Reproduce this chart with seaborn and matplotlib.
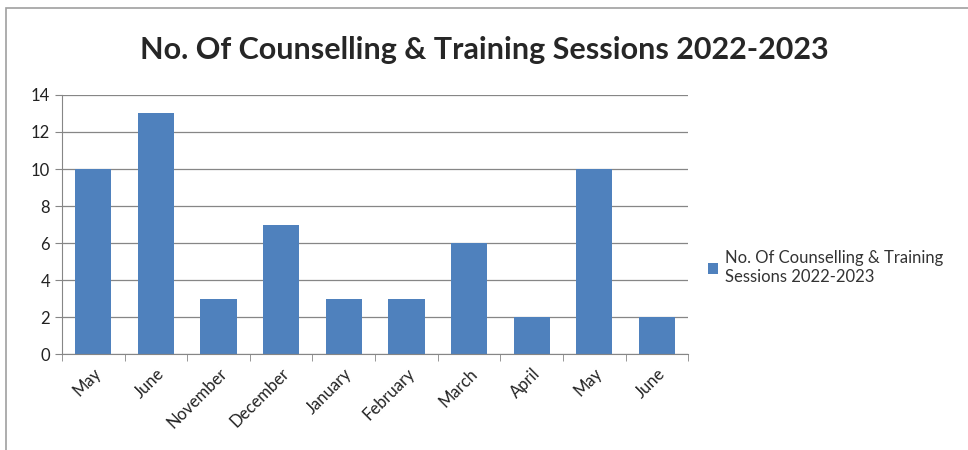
import numpy as np
import pandas as pd
import matplotlib.pyplot as plt
import seaborn as sns
from matplotlib.patches import Rectangle

months = ['May', 'June', 'November', 'December', 'January', 'February',
          'March', 'April', 'May', 'June']
sessions = [10, 13, 3, 7, 3, 3, 6, 2, 10, 2]
series_name = 'No. Of Counselling & Training\nSessions 2022-2023'
title = 'No. Of Counselling & Training Sessions 2022-2023'

sns.set_style('white')
plt.rcParams['font.family'] = ['Lato', 'DejaVu Sans']

df = pd.DataFrame({'pos': np.arange(len(months)), 'sessions': sessions})

fig = plt.figure(figsize=(9.68, 4.5), dpi=100)
ax = fig.add_axes([0.064, 0.213, 0.647, 0.576])

sns.barplot(data=df, x='pos', y='sessions', color='#4F81BD', saturation=1,
            width=0.58, label=series_name, ax=ax, legend=False, linewidth=0)

ax.set_ylim(0, 14)
ax.set_yticks(range(0, 15, 2))
ax.set_xlim(-0.5, len(months) - 0.5)
ax.set_xticks(range(len(months)))
ax.set_xticklabels(months, rotation=45, ha='right', rotation_mode='anchor')
ax.set_xticks(np.arange(-0.5, len(months), 1), minor=True)
ax.tick_params(axis='x', which='major', length=0, pad=8, labelsize=12, labelcolor='#222222')
ax.tick_params(axis='x', which='minor', length=5, color='#868686', bottom=True)
ax.tick_params(axis='y', length=5, color='#868686', left=True, labelsize=12, labelcolor='#222222')
ax.set_xlabel('')
ax.set_ylabel('')
ax.yaxis.grid(True, color='#868686', linewidth=0.9)
ax.set_axisbelow(True)
for side in ['top', 'right']:
    ax.spines[side].set_visible(False)
for side in ['left', 'bottom']:
    ax.spines[side].set_color('#868686')

fig.text(0.5, 0.888, title, ha='center', va='center', fontsize=22, fontweight='bold')

handles, labels = ax.get_legend_handles_labels()
fig.legend(handles, labels, loc='center left', bbox_to_anchor=(0.716, 0.405),
           frameon=False, fontsize=12, handlelength=0.6, handleheight=0.6,
           handletextpad=0.4, labelcolor='#333333')

fig.patches.append(Rectangle((0.006, -0.01), 1.1, 0.992, transform=fig.transFigure,
                             fill=False, edgecolor='#a0a0a0', linewidth=1.2))

fig.savefig('out.png', dpi=100)
